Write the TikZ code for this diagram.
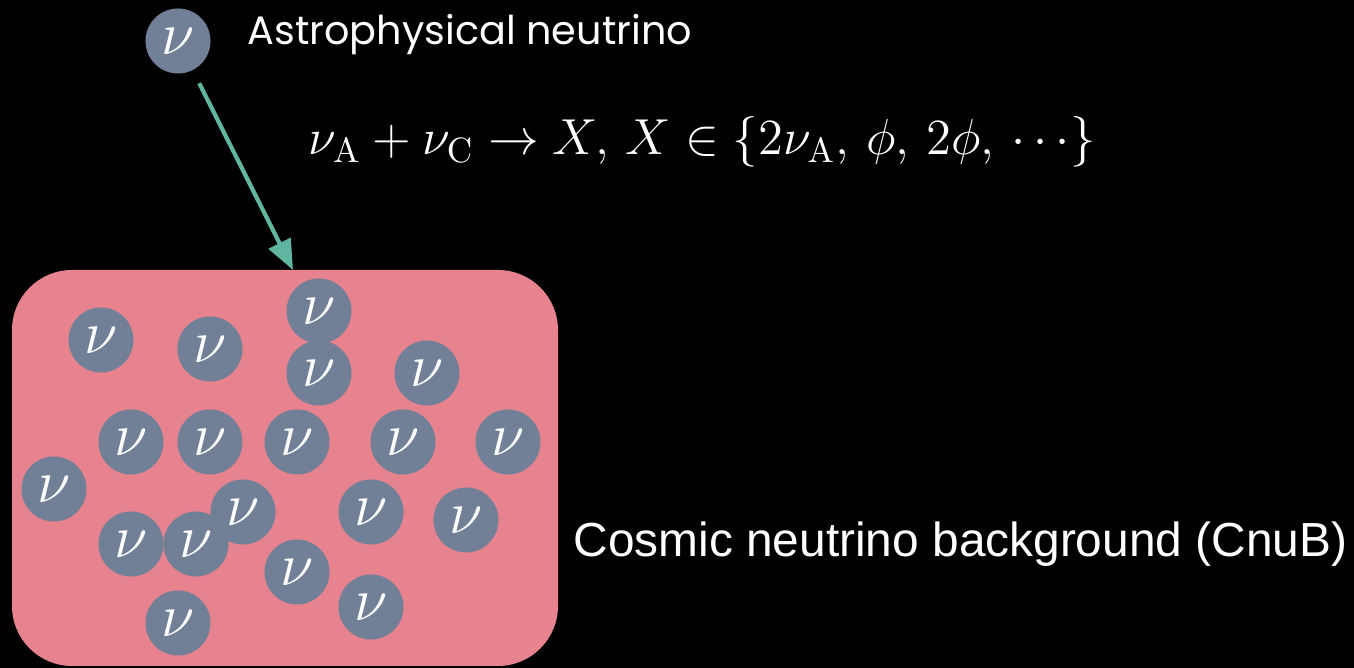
\documentclass[tikz,border=0pt]{standalone}
\usepackage[no-math]{fontspec}
\usetikzlibrary{arrows.meta}
\setmainfont{Liberation Sans}
\newfontfamily\geofont{Poppins}
\definecolor{cnubpink}{HTML}{E6838F}
\definecolor{nugray}{HTML}{718096}
\definecolor{arrowteal}{HTML}{5FB5A0}
\begin{document}
\begin{tikzpicture}[x=0.01cm, y=-0.01cm,
    nu/.style={circle, fill=nugray, minimum size=0.65cm, inner sep=0pt,
      text=white, font=\fontsize{16}{16}\selectfont},
    label/.style={text=white, inner sep=0pt}]
    % Background
    \fill[black] (0,0) rectangle (1354,668);
    \useasboundingbox (0,0) rectangle (1354,668);
    \fill[cnubpink, rounded corners=0.6cm] (12,270) rectangle (558,666);

    % Nodes
    \node[nu] (a) at (178,41) {$\nu$};
    \node[label, anchor=base west, font=\geofont\fontsize{11.3}{13}\selectfont] (astro) at (247,45) {Astrophysical neutrino};
    \node[label, anchor=base west, font=\fontsize{13.6}{15}\selectfont] (eq) at (308,155)
      {$\nu_{\mathrm{A}} + \nu_{\mathrm{C}} \rightarrow X,\, X \in \{2\nu_{\mathrm{A}},\, \phi,\, 2\phi,\, \cdots\}$};
    \node[label, anchor=base west, font=\fontsize{13.6}{15}\selectfont] (cnub) at (573,557) {Cosmic neutrino background (CnuB)};
    \coordinate (tip) at (293,270);

    \node[nu] (n1) at (101,340) {$\nu$};
    \node[nu] (n2) at (210,349) {$\nu$};
    \node[nu] (n3) at (319,311) {$\nu$};
    \node[nu] (n4) at (319,373) {$\nu$};
    \node[nu] (n5) at (427,373) {$\nu$};
    \node[nu] (n6) at (131,442) {$\nu$};
    \node[nu] (n7) at (210,442) {$\nu$};
    \node[nu] (n8) at (297,442) {$\nu$};
    \node[nu] (n9) at (403,442) {$\nu$};
    \node[nu] (n10) at (508,442) {$\nu$};
    \node[nu] (n11) at (54,489) {$\nu$};
    \node[nu] (n12) at (243,512) {$\nu$};
    \node[nu] (n13) at (371,512) {$\nu$};
    \node[nu] (n14) at (466,520) {$\nu$};
    \node[nu] (n15) at (131,544) {$\nu$};
    \node[nu] (n16) at (196,544) {$\nu$};
    \node[nu] (n17) at (297,572) {$\nu$};
    \node[nu] (n18) at (371,607) {$\nu$};
    \node[nu] (n19) at (178,623) {$\nu$};

    % Edges
    \draw[arrowteal, line width=1.2pt, -{Triangle[length=0.3cm, width=0.24cm]}, shorten <=0.14cm] (a) -- (tip);
\end{tikzpicture}
\end{document}
